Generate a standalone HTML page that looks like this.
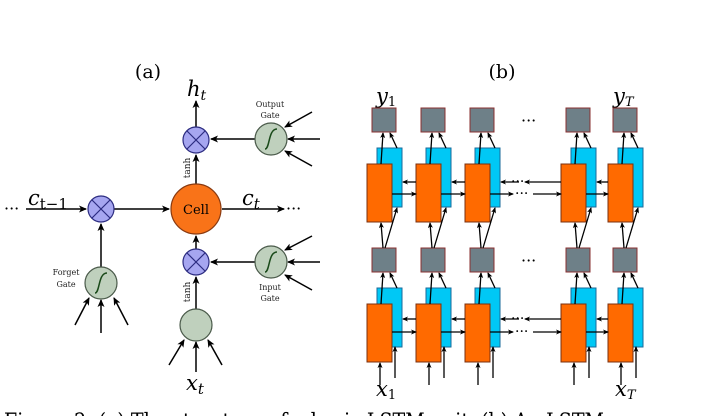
<!DOCTYPE html>
<html><head><meta charset="utf-8"><style>
html,body{margin:0;padding:0;background:#fff;width:720px;height:416px;overflow:hidden}
svg{display:block}
text{font-family:"DejaVu Serif","Liberation Serif",serif}
</style></head><body>
<svg id="s" width="720" height="416" viewBox="0 0 720 416" xmlns="http://www.w3.org/2000/svg">
<defs>
<marker id="ah" markerWidth="8" markerHeight="8" refX="7" refY="4" orient="auto" markerUnits="userSpaceOnUse"><path d="M0,0.5 L8,4 L0,7.5 L2,4 Z" fill="#000"/></marker>
<marker id="as" markerWidth="6" markerHeight="6" refX="5" refY="3" orient="auto" markerUnits="userSpaceOnUse"><path d="M0,0.5 L6,3 L0,5.5 L1.5,3 Z" fill="#000"/></marker>
</defs>
<g stroke="#000" stroke-width="1.5" fill="none">
<line x1="26" y1="209" x2="86" y2="209" marker-end="url(#ah)"/>
<line x1="114" y1="209" x2="169" y2="209" marker-end="url(#ah)"/>
<line x1="222" y1="209" x2="284" y2="209" marker-end="url(#ah)"/>
<line x1="196" y1="184" x2="196" y2="155" marker-end="url(#ah)"/>
<line x1="196" y1="127" x2="196" y2="101" marker-end="url(#ah)"/>
<line x1="255" y1="139" x2="211" y2="139" marker-end="url(#ah)"/>
<line x1="255" y1="262" x2="211" y2="262" marker-end="url(#ah)"/>
<line x1="196" y1="249" x2="196" y2="236" marker-end="url(#ah)"/>
<line x1="196" y1="309" x2="196" y2="277" marker-end="url(#ah)"/>
<line x1="101" y1="267" x2="101" y2="224" marker-end="url(#ah)"/>
<line x1="312" y1="112" x2="285" y2="127" marker-end="url(#ah)"/>
<line x1="320" y1="139" x2="288" y2="139" marker-end="url(#ah)"/>
<line x1="312" y1="166" x2="285" y2="151" marker-end="url(#ah)"/>
<line x1="312" y1="236" x2="285" y2="250" marker-end="url(#ah)"/>
<line x1="320" y1="262" x2="288" y2="262" marker-end="url(#ah)"/>
<line x1="312" y1="290" x2="285" y2="275" marker-end="url(#ah)"/>
<line x1="75" y1="325" x2="89" y2="298" marker-end="url(#ah)"/>
<line x1="101" y1="333" x2="101" y2="300" marker-end="url(#ah)"/>
<line x1="128" y1="325" x2="114" y2="298" marker-end="url(#ah)"/>
<line x1="169" y1="365" x2="184" y2="340" marker-end="url(#ah)"/>
<line x1="196" y1="372" x2="196" y2="342" marker-end="url(#ah)"/>
<line x1="222" y1="365" x2="208" y2="340" marker-end="url(#ah)"/>
</g>
<g stroke="#2c2c80" stroke-width="1.2">
<circle cx="101" cy="209" r="13" fill="#a6a6f0"/>
<circle cx="196" cy="140" r="13" fill="#a6a6f0"/>
<circle cx="196" cy="262" r="13" fill="#a6a6f0"/>
<path d="M92,200 L110,218 M110,200 L92,218 M187,131 L205,149 M205,131 L187,149 M187,253 L205,271 M205,253 L187,271" fill="none"/>
</g>
<circle cx="196" cy="209" r="25" fill="#f97318" stroke="#8a3a10" stroke-width="1.2"/>
<g fill="#bfd0bd" stroke="#4a5a4a" stroke-width="1.2">
<circle cx="271" cy="139" r="16"/><circle cx="271" cy="262" r="16"/>
<circle cx="101" cy="283" r="16"/><circle cx="196" cy="325" r="16"/>
</g>
<g fill="none" stroke="#1a4a1a" stroke-width="1.5">
<path d="M265,149 C270,149 268,129 277,129"/><path d="M265,272 C270,272 268,252 277,252"/><path d="M95,293 C100,293 98,273 107,273"/>
</g>
<g font-size="8" fill="#222" text-anchor="middle">
<text x="270" y="107">Output</text><text x="270" y="118">Gate</text>
<text x="270" y="290">Input</text><text x="270" y="301">Gate</text>
<text x="66" y="275">Forget</text><text x="66" y="287">Gate</text>
<text transform="translate(190,168) rotate(-90)" font-size="9">tanh</text>
<text transform="translate(190,292) rotate(-90)" font-size="9">tanh</text>
</g>
<text x="196" y="214" font-size="13" text-anchor="middle">Cell</text>
<g font-size="21" font-style="italic" fill="#000">
<text x="187" y="96">h<tspan font-size="14" dy="4">t</tspan></text>
<text x="28" y="205">c<tspan font-size="15" dy="4" font-style="normal">t−1</tspan></text>
<text x="242" y="205">c<tspan font-size="15" dy="4">t</tspan></text>
<text x="186" y="390">x<tspan font-size="15" dy="4">t</tspan></text>
<text x="376" y="103">y<tspan font-size="13" dy="3" font-style="normal">1</tspan></text>
<text x="613" y="103">y<tspan font-size="13" dy="3">T</tspan></text>
<text x="376" y="396">x<tspan font-size="13" dy="3" font-style="normal">1</tspan></text>
<text x="615" y="396">x<tspan font-size="13" dy="3">T</tspan></text>
</g>
<g font-size="16" fill="#000"><text x="4" y="214">···</text><text x="286" y="214">···</text>
<text x="521" y="126">···</text><text x="521" y="266">···</text></g>
<g font-size="19" fill="#000" text-anchor="middle"><text x="148" y="78">(a)</text><text x="502" y="78">(b)</text></g>
<g id="b"></g>
<text x="4" y="429" font-size="22" fill="#000" font-family="Liberation Serif" textLength="600" lengthAdjust="spacingAndGlyphs">Figure 2: (a) The structure of a basic LSTM unit. (b) An LSTM</text>
</svg>
<script>
var g=document.getElementById('b'),h='';
var xs=[367,416,465,561,608];
function L(x1,y1,x2,y2,m){h+='<line x1="'+x1+'" y1="'+y1+'" x2="'+x2+'" y2="'+y2+'" stroke="#000" stroke-width="1.3" marker-end="url(#'+(m||'as')+')"/>';}
xs.forEach(function(x,i){
 [[148,164],[288,304]].forEach(function(r,k){
  h+='<rect x="'+(x+10)+'" y="'+r[0]+'" width="25" height="59" fill="#00c8f5" stroke="#1a6a9a"/>';
  h+='<rect x="'+x+'" y="'+r[1]+'" width="25" height="58" fill="#ff6a00" stroke="#7a3010"/>';
  var gy=k==0?132:272;
  L(x+14,r[1],x+16,gy+1);L(x+30,r[0],x+23,gy+1);
 });
 h+='<rect x="'+(x+5)+'" y="108" width="24" height="24" fill="#6e8088" stroke="#8a3030"/>';
 h+='<rect x="'+(x+5)+'" y="248" width="24" height="24" fill="#6e8088" stroke="#8a3030"/>';
 L(x+16,248,x+14,223);L(x+18,248,x+30,208);
 L(x+13,385,x+13,363);L(x+28,378,x+28,347);
});
[[182,194],[319,332]].forEach(function(r){
 for(var i=0;i<xs.length-1;i++){
  var a=xs[i],b=xs[i+1];
  if(i==2){L(b,r[0],a+60,r[0]);L(a+36+18,r[0],a+36,r[0]);L(a+25,r[1],a+48,r[1]);L(a+68,r[1],b,r[1]);
   h+='<text x="'+(a+46)+'" y="'+(r[0]+4)+'" font-size="14">···</text><text x="'+(a+50)+'" y="'+(r[1]+4)+'" font-size="14">···</text>';}
  else{L(b,r[0],a+36,r[0]);L(a+25,r[1],b,r[1]);}
 }
});
g.innerHTML=h;
</script>
</body></html>
